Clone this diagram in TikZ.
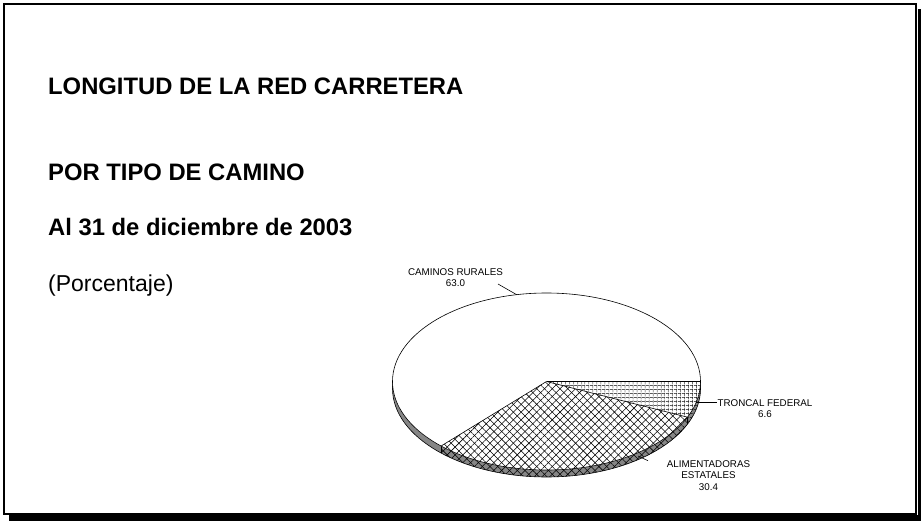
\documentclass[tikz,border=0pt]{standalone}
\usepackage{fontspec}
\setmainfont{Liberation Sans}
\usetikzlibrary{patterns.meta}
\begin{document}
\begin{tikzpicture}[x=1pt,y=-1pt,
  title/.style={anchor=base west, inner sep=0pt, font=\fontsize{23.8}{26}\selectfont\bfseries},
  subtitle/.style={anchor=base west, inner sep=0pt, font=\fontsize{23}{26}\selectfont},
  lbl/.style={align=center, inner sep=0pt, font=\fontsize{9.8}{11.6}\selectfont},
  leader/.style={draw=black, line width=0.6pt},
  rim/.style={draw=black, line width=0.6pt},
  diagA/.style={pattern={Lines[angle=45,distance=5.5pt,line width=0.55pt]}},
  diagB/.style={pattern={Lines[angle=-45,distance=5.5pt,line width=0.55pt]}},
  gridA/.style={pattern={Lines[angle=0,distance=4pt,line width=0.65pt]}},
  gridB/.style={pattern={Lines[angle=90,distance=4pt,line width=0.65pt]}},
  rurSide/.style={fill=gray!95},
  aliSide/.style={fill=gray!95, postaction={diagA}, postaction={diagB}},
  troSide/.style={fill=gray!95, postaction={gridA}, postaction={gridB}},
  rurTop/.style={fill=white},
  aliTop/.style={fill=white, postaction={diagA}, postaction={diagB}},
  troTop/.style={fill=white, postaction={gridA}, postaction={gridB}},
  pie/.style={x radius=154, y radius=88.5}
]
\useasboundingbox (0,0) rectangle (921,521);
% frame with shadow
\fill[black] (9,515) rectangle (921,521);
\fill[black] (917.5,9) rectangle (921,521);
\draw[line width=2pt] (4,4) rectangle (916,514);

% titles
\node[title] (t1) at (48,95) {LONGITUD DE LA RED CARRETERA};
\node[title] (t2) at (48,180.5) {POR TIPO DE CAMINO};
\node[title] (t3) at (48,236) {Al 31 de diciembre de 2003};
\node[subtitle] (t4) at (48,291.5) {(Porcentaje)};

% pie
\coordinate (C) at (546.5,381.5);
% sides
\path[rurSide] (C) ++(133.2:154 and 88.5) arc[start angle=133.2,end angle=180,pie] -- ++(0,7) arc[start angle=180,end angle=133.2,pie] -- cycle;
\path[aliSide] (C) ++(23.76:154 and 88.5) arc[start angle=23.76,end angle=133.2,pie] -- ++(0,7) arc[start angle=133.2,end angle=23.76,pie] -- cycle;
\path[troSide] (C) ++(0:154 and 88.5) arc[start angle=0,end angle=23.76,pie] -- ++(0,7) arc[start angle=23.76,end angle=0,pie] -- cycle;
\draw[rim] (C) ++(0:154 and 88.5) -- ++(0,7) arc[start angle=0,end angle=180,pie] -- ++(0,-7);
\draw[rim] (C) ++(23.76:154 and 88.5) -- ++(0,7);
\draw[rim] (C) ++(133.2:154 and 88.5) -- ++(0,7);
% top faces
\path[rurTop] (C) -- ++(133.2:154 and 88.5) arc[start angle=133.2,end angle=360,pie] -- cycle;
\path[aliTop] (C) -- ++(23.76:154 and 88.5) arc[start angle=23.76,end angle=133.2,pie] -- cycle;
\path[troTop] (C) -- ++(0:154 and 88.5) arc[start angle=0,end angle=23.76,pie] -- cycle;
\draw[rim] (C) ellipse[pie];
\draw[rim] (C) -- ++(0:154 and 88.5);
\draw[rim] (C) -- ++(23.76:154 and 88.5);
\draw[rim] (C) -- ++(133.2:154 and 88.5);

% labels
\node[lbl] (rur) at (455.5,277.5) {CAMINOS RURALES\\63.0};
\node[lbl] (tro) at (765,408.5) {TRONCAL FEDERAL\\6.6};
\node[lbl] (ali) at (708.5,475.5) {ALIMENTADORAS\\ESTATALES\\30.4};
\coordinate (rurA) at (498,284);
\coordinate (rurB) at (516.7,294.7);
\coordinate (troA) at (696,402);
\coordinate (troB) at (717,402);
\coordinate (aliA) at (638,456);
\coordinate (aliB) at (648,460.7);
\draw[leader] (rurA) -- (rurB);
\draw[leader] (troA) -- (troB);
\draw[leader] (aliA) -- (aliB);
\end{tikzpicture}
\end{document}
